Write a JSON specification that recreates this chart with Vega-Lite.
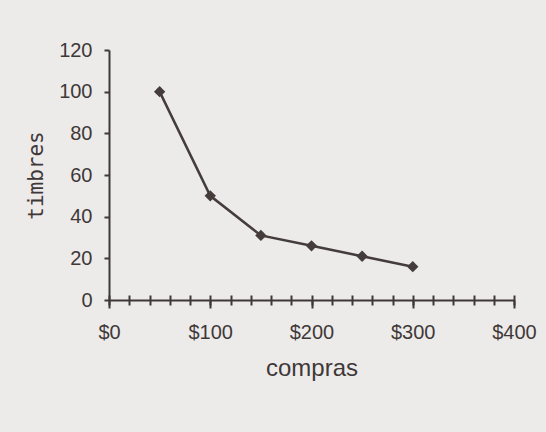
{
  "$schema": "https://vega.github.io/schema/vega-lite/v6.json",
  "width": 405,
  "height": 250,
  "autosize": "none",
  "padding": {"left": 109, "top": 50, "right": 32, "bottom": 132},
  "background": "#ecebe9",
  "config": {
    "view": {"stroke": null},
    "axis": {
      "domainColor": "#3f3838",
      "domainWidth": 2,
      "tickColor": "#3f3838",
      "tickWidth": 2,
      "labelColor": "#3f3838",
      "labelFont": "Liberation Sans",
      "labelFontSize": 20,
      "labelFontWeight": "normal",
      "titleColor": "#3f3838",
      "titleFontWeight": "normal",
      "grid": false
    }
  },
  "data": {
    "values": [
      {"compras": 50, "timbres": 100},
      {"compras": 100, "timbres": 50},
      {"compras": 150, "timbres": 31},
      {"compras": 200, "timbres": 26},
      {"compras": 250, "timbres": 21},
      {"compras": 300, "timbres": 16}
    ]
  },
  "layer": [
    {
      "mark": {"type": "line", "color": "#453c3c", "strokeWidth": 2.5},
      "encoding": {
        "x": {
          "field": "compras",
          "type": "quantitative",
          "scale": {"domain": [0, 400], "nice": false},
          "axis": {
            "orient": "bottom",
            "values": [0, 100, 200, 300, 400],
            "format": "$.0f",
            "ticks": true,
            "tickSize": 8,
            "labelPadding": 14,
            "labelFlush": false,
            "title": "compras",
            "titleFont": "Liberation Sans",
            "titleFontSize": 24,
            "titlePadding": 14
          }
        },
        "y": {
          "field": "timbres",
          "type": "quantitative",
          "scale": {"domain": [0, 120], "nice": false},
          "axis": {
            "values": [0, 20, 40, 60, 80, 100, 120],
            "tickSize": 5,
            "labelPadding": 12,
            "labelFlush": false,
            "title": "timbres",
            "titleFont": "DejaVu Sans Mono",
            "titleFontSize": 21,
            "titlePadding": 12
          }
        }
      }
    },
    {
      "mark": {"type": "point", "shape": "diamond", "filled": true, "color": "#453c3c", "opacity": 1, "size": 130},
      "encoding": {
        "x": {
          "field": "compras",
          "type": "quantitative",
          "scale": {"domain": [0, 400], "nice": false},
          "axis": {
            "orient": "bottom",
            "values": [0, 20, 40, 60, 80, 100, 120, 140, 160, 180, 200, 220, 240, 260, 280, 300, 320, 340, 360, 380, 400],
            "labels": false,
            "domain": false,
            "ticks": true,
            "tickSize": 10,
            "offset": -5,
            "title": null
          }
        },
        "y": {
          "field": "timbres",
          "type": "quantitative",
          "scale": {"domain": [0, 120], "nice": false}
        }
      }
    }
  ],
  "resolve": {"axis": {"x": "independent"}}
}
